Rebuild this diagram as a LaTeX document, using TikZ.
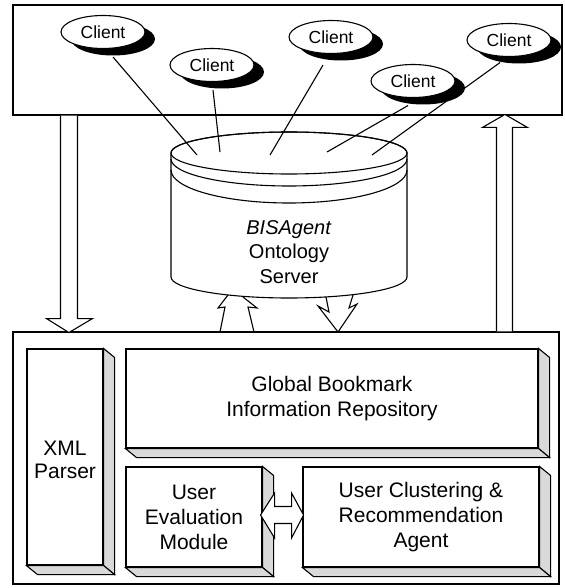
\documentclass[tikz,border=0pt]{standalone}
\usepackage{fontspec}
\setmainfont{Liberation Sans}
\usetikzlibrary{shapes.geometric,shadows,calc}

\tikzset{
  panel/.style={draw, rectangle, inner sep=0pt},
  client/.style={draw, ellipse, fill=white, minimum width=84pt, minimum height=33pt,
    inner sep=0pt, font=\fontsize{17.5}{20}\selectfont,
    drop shadow={shadow xshift=10pt, shadow yshift=-7pt, fill=black, opacity=1}},
  module/.style={draw, rectangle, fill=white, inner sep=0pt, align=center,
    font=\fontsize{21}{25}\selectfont},
  bevel/.style={draw, fill=black!15},
  hollow/.style={draw, fill=white, line join=miter},
  feed/.style={draw},
}

% shaded right and bottom faces of a raised module box
\newcommand\sidefaces[1]{%
  \filldraw[bevel] (#1.north east) -- ++(11,-9) -- ([shift={(11,-9)}]#1.south east)
    -- (#1.south east) -- cycle;
  \filldraw[bevel] (#1.south west) -- ++(11,-9) -- ([shift={(11,-9)}]#1.south east)
    -- (#1.south east) -- cycle;}

\begin{document}
\begin{tikzpicture}[x=1pt, y=1pt, line width=1.1pt]
\useasboundingbox (0,0) rectangle (564,-588);

% client tier and back-end frames
\node[panel, minimum width=549pt, minimum height=110pt] (clients) at (287.5,-60) {};
\node[panel, minimum width=546pt, minimum height=252pt] (backend) at (286,-458) {};

% ontology server drum
\filldraw[fill=white] (171,-153) -- (171,-277)
  arc[start angle=180, end angle=360, x radius=118, y radius=21] -- (407,-153)
  arc[start angle=0, end angle=180, x radius=118, y radius=21] -- cycle;
\draw (289,-153) ellipse [x radius=118, y radius=21];
\draw (171,-159) arc[start angle=180, end angle=360, x radius=118, y radius=27];
\draw (171,-170) arc[start angle=180, end angle=360, x radius=118, y radius=33];
\node[align=center, font=\fontsize{20}{24.5}\selectfont] (server) at (289,-252)
  {\textit{BISAgent}\\Ontology\\Server};

% where the client links meet the drum top
\coordinate (t1) at (197,-155);
\coordinate (t2) at (220,-152);
\coordinate (t3) at (270,-155);
\coordinate (t4) at (327,-152);
\coordinate (t5) at (372,-155);

% clients
\node[client] (c1) at (103,-32) {Client};
\node[client] (c2) at (212,-65) {Client};
\node[client] (c3) at (331,-37) {Client};
\node[client] (c4) at (413,-81) {Client};
\node[client] (c5) at (509,-40) {Client};

% client links
\draw[feed] ([shift={(10,-8)}]c1.south) -- (t1);
\draw[feed] ([shift={(1,-8)}]c2.south) -- (t2);
\draw[feed] ([shift={(-8,-11)}]c3.south) -- (t3);
\draw[feed] ([shift={(-5,-7.5)}]c4.south) -- (t4);
\draw[feed] ([shift={(-9,-5.5)}]c5.south) -- (t5);

% requests down to the back end, results back up
\draw[hollow] ([xshift=48]clients.south west) -- ++(0,-203) -- ++(-14,0)
  -- ++(22.5,-14) -- ++(23.5,14) -- ++(-15,0) -- ++(0,203);
\draw[hollow] ([xshift=484]backend.north west) -- ++(0,204) -- ++(-14,0)
  -- ++(22.5,13) -- ++(22.5,-13) -- ++(-15,0) -- ++(0,-204);

% traffic between the server and the back end
\draw (220,-332) -- (225,-307) -- (218,-308) -- (228,-295);
\draw (243,-297) -- (257,-308) -- (248,-307) -- (254,-332);
\draw (326,-297) -- (329,-312) -- (318,-306) -- (338,-332) -- (357,-304)
  -- (349,-308) -- (353,-295);

% back-end modules
\node[module, minimum width=76pt, minimum height=216pt,
  label={[align=center, font=\fontsize{21}{23}\selectfont, yshift=-2.5pt]center:{XML\\Parser}}]
  (xml) at (65,-457) {};
\node[module, minimum width=412pt, minimum height=99pt] (glob) at (332,-398.5)
  {Global Bookmark\\Information Repository};
\node[module, minimum width=136pt, minimum height=100pt] (ueval) at (194,-517)
  {User\\Evaluation\\Module};
\node[module, minimum width=236pt, minimum height=100pt] (uclus) at (421,-517)
  {User Clustering \&\\Recommendation\\Agent};
\sidefaces{xml}
\sidefaces{glob}
\sidefaces{ueval}
\sidefaces{uclus}

% evaluation <-> clustering exchange
\draw[hollow] ([shift={(-2,2)}]ueval.east) -- ++(14,22) -- ++(0,-13.5) -- ++(17,0)
  -- ++(0,13.5) -- ++(12,-22) -- ++(-12,-23) -- ++(0,14.5) -- ++(-17,0)
  -- ++(0,-14.5) -- cycle;
\end{tikzpicture}
\end{document}
